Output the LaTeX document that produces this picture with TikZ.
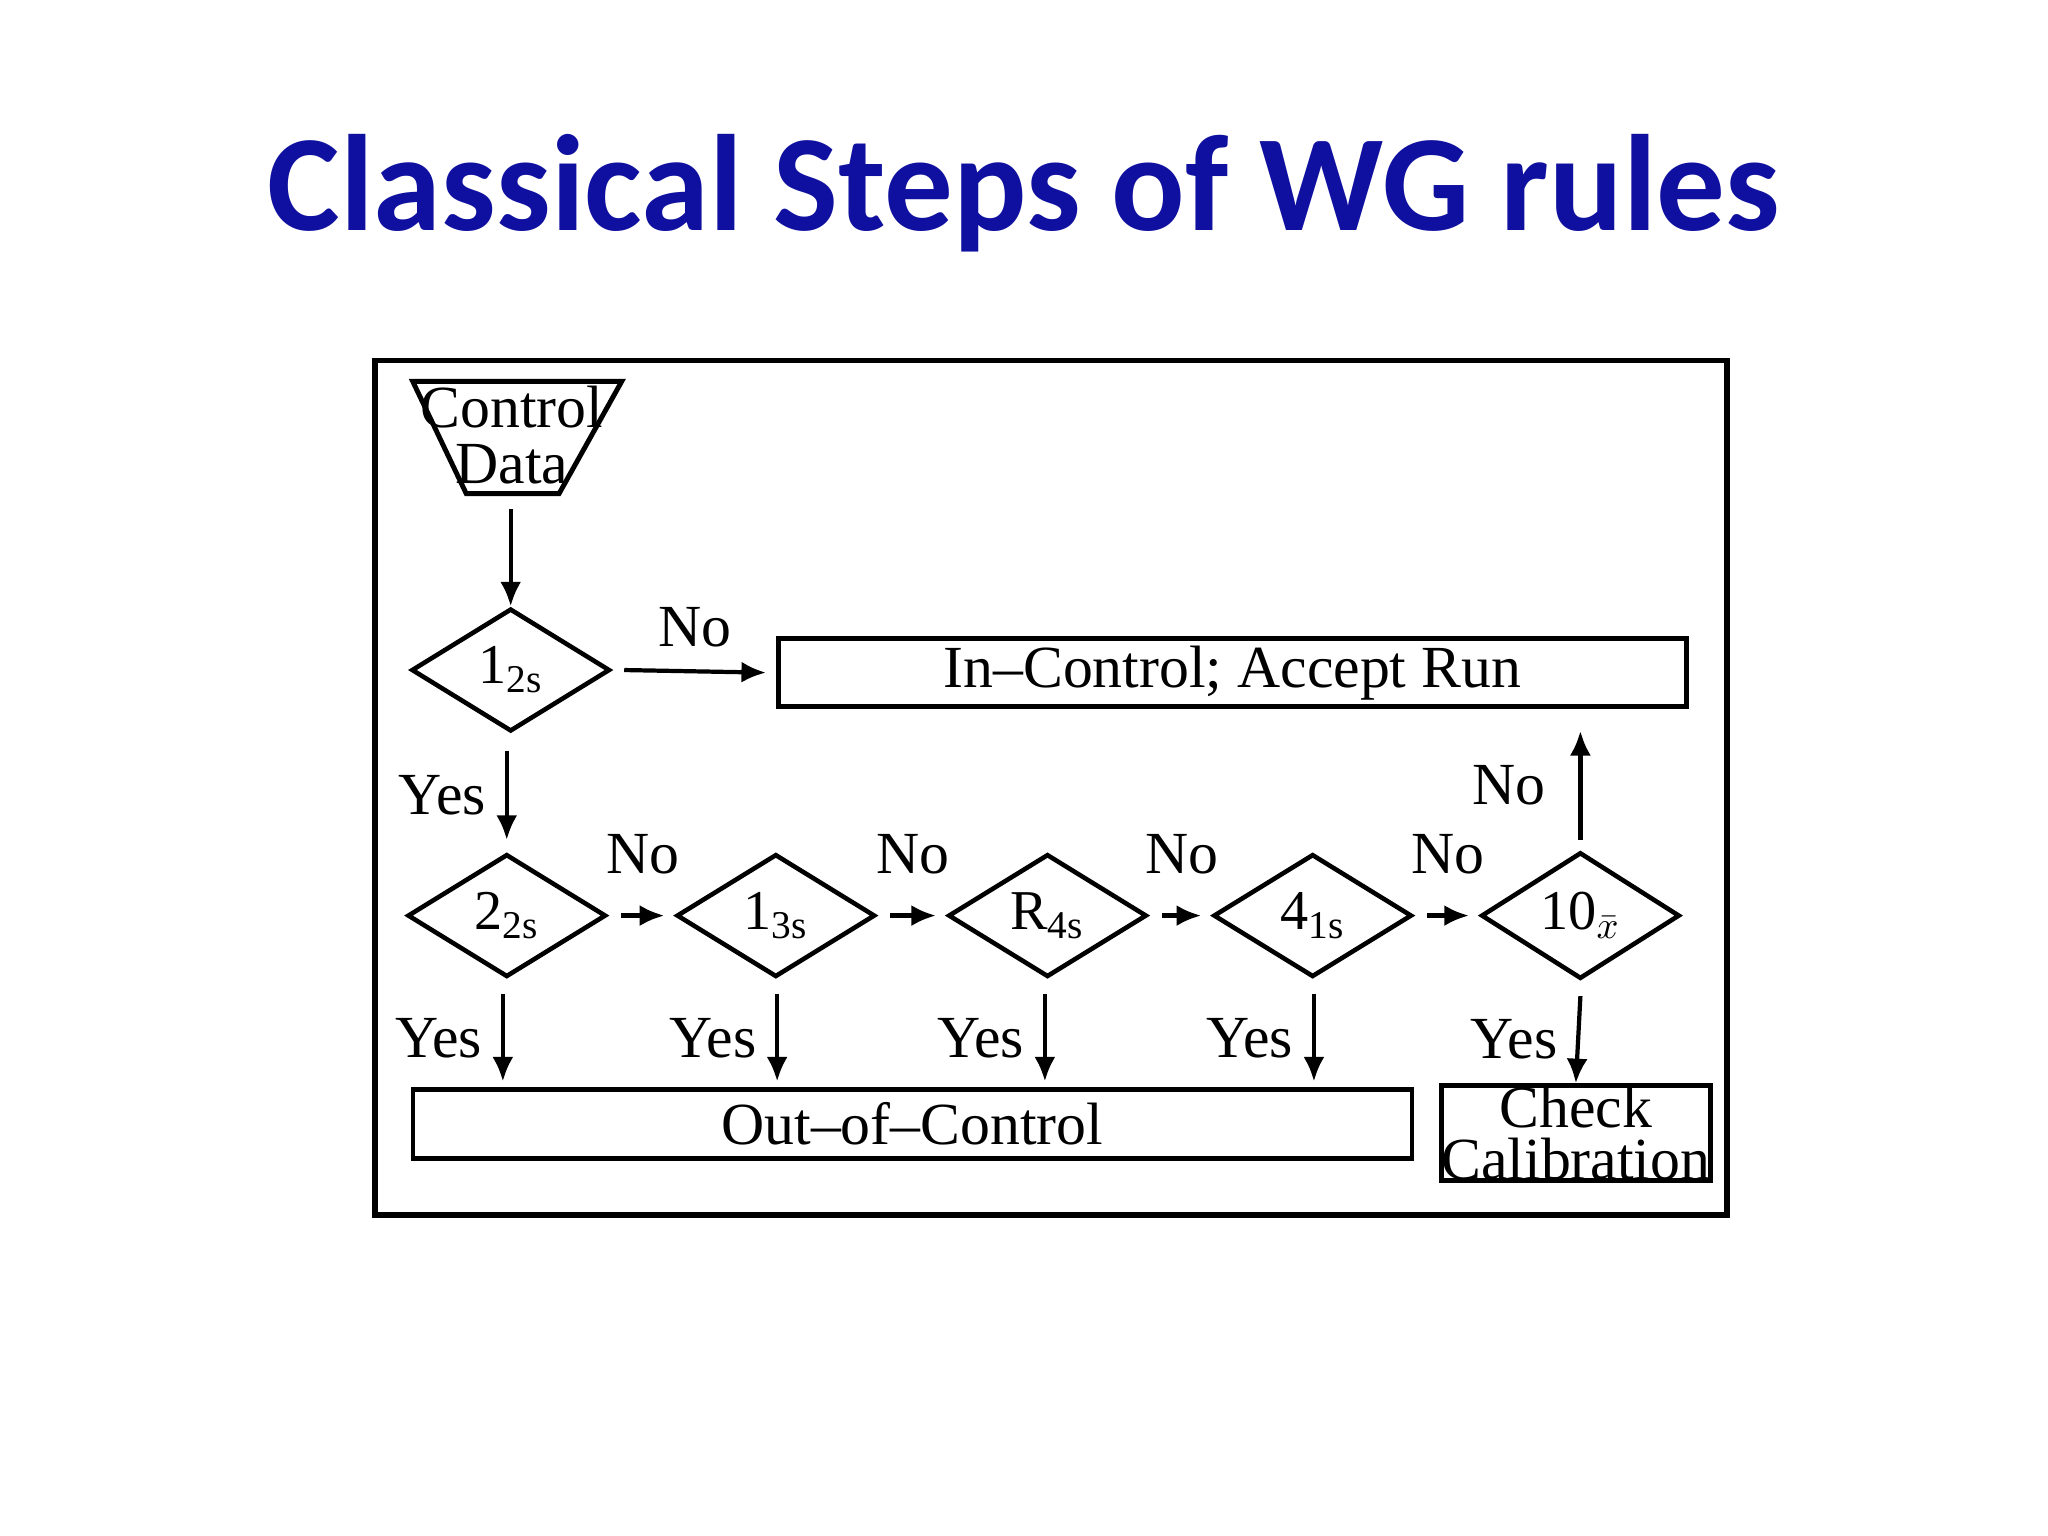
\documentclass[tikz,border=0pt]{standalone}
\usepackage{fontspec}
\setmainfont{Liberation Serif}
\newfontfamily\titlefont{Carlito}
\usetikzlibrary{shapes.geometric,arrows.meta}
\definecolor{titleblue}{RGB}{16,16,160}
\begin{document}
\begin{tikzpicture}[x=0.01306cm,y=-0.01306cm,
  dia/.style={draw,line width=1.3pt,diamond,inner sep=0pt,minimum width=1.985cm,minimum height=1.228cm,font=\fontsize{16}{18}\selectfont},
  box/.style={draw,line width=1.3pt,inner sep=0pt,font=\fontsize{17}{19}\selectfont},
  arr/.style={-{Latex[length=7pt,width=6pt]},line width=1.2pt},
  lab/.style={font=\fontsize{17}{19}\selectfont},
]
\fill[white] (0,0) rectangle (1568,1176);
\node[font=\titlefont\bfseries\fontsize{39}{44}\selectfont,text=titleblue] (title) at (784,148) {Classical Steps of WG rules};
\draw[line width=1.6pt] (287,276) rectangle (1322,930);
% control data
\draw[line width=1.4pt] (316,292) -- (476,292) -- (428,378) -- (357,378) -- cycle;
\node[lab,align=center,inner sep=0pt] (cd) at (392,333) {Control\\[-3pt]Data};
\coordinate (cdb) at (391,390);
\node[dia] (d1) at (391,513) {1\textsubscript{2s}};
\draw[arr] (cdb) -- (d1.north);
\node[box,minimum width=9.08cm,minimum height=0.68cm] (inc) at (943.5,515) {In--Control; Accept Run};
\draw[arr] ([xshift=0.12cm]d1.east) -- ([xshift=-0.1cm]inc.west) node[lab,midway,above=3pt] {No};
\node[dia] (d2) at (388,701) {2\textsubscript{2s}};
\node[dia] (d3) at (594,701) {1\textsubscript{3s}};
\node[dia] (d4) at (802,701) {R\textsubscript{4s}};
\node[dia] (d5) at (1005,701) {4\textsubscript{1s}};
\node[dia] (d6) at (1210,701) {10\textsubscript{$\bar{x}$}};
\draw[arr] ([yshift=-0.17cm]d1.south -| d2) -- ([yshift=0.12cm]d2.north) node[lab,midway,left=2pt] {Yes};
\foreach \a/\b in {d2/d3,d3/d4,d4/d5,d5/d6}{
  \draw[arr] ([xshift=0.13cm]\a.east) -- ([xshift=-0.1cm]\b.west) node[lab,midway,above=8pt] {No};
}
\node[box,minimum width=9.99cm,minimum height=0.69cm] (ooc) at (698.5,860.5) {Out--of--Control};
\node[box,minimum width=2.21cm,minimum height=0.95cm,align=center] (cc) at (1206.5,867.5) {Check\\[-4pt]Calibration};
\foreach \d/\x in {d2/385,d3/595,d4/800,d5/1006}{
  \draw[arr] ([yshift=-0.15cm]\d.south -| \x,0) -- (\x,828) node[lab,midway,left=2pt] {Yes};
}
\draw[arr] ([yshift=-0.15cm]d6.south) -- (cc.north) node[lab,midway,left=2pt] {Yes};
\draw[arr] ([yshift=0.1cm]d6.north) -- ([yshift=-0.22cm]inc.south -| d6) node[lab,midway,left=6pt] {No};
\end{tikzpicture}
\end{document}
